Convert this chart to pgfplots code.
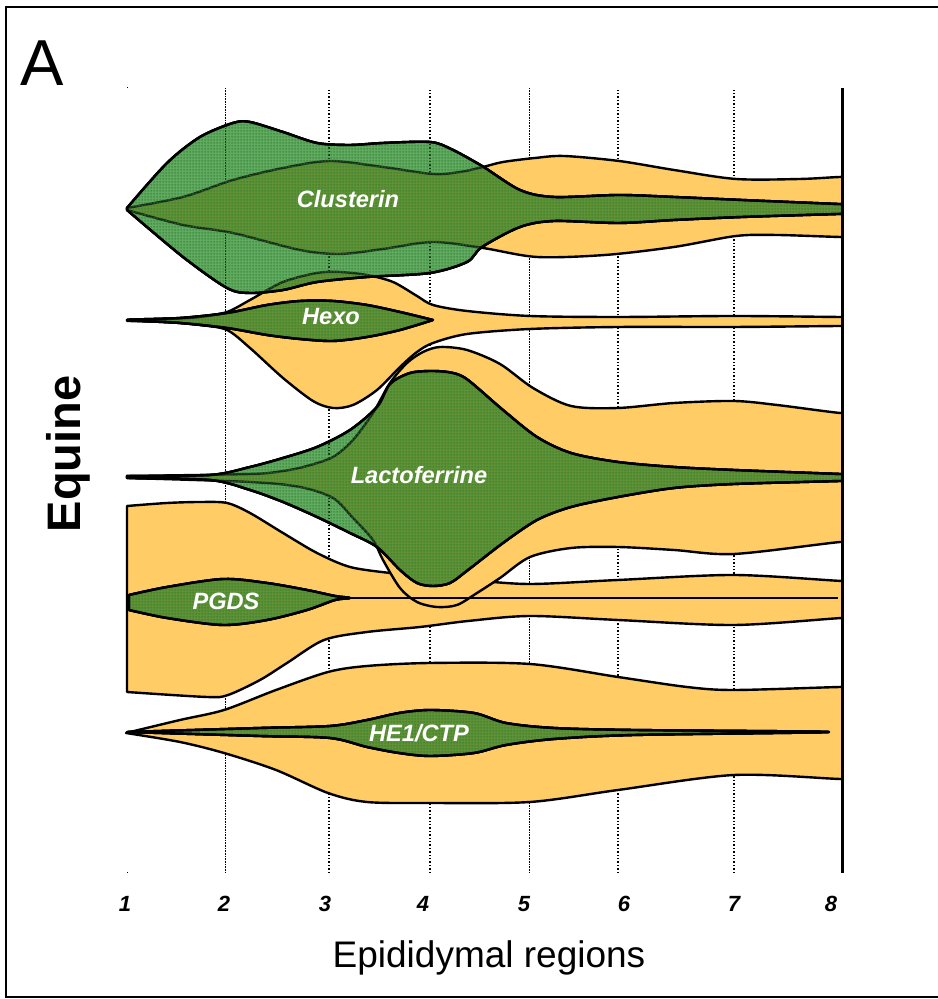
\documentclass[border=0pt]{standalone}
\usepackage{pgfplots}
\pgfplotsset{compat=1.18}
\usetikzlibrary{patterns.meta}
\usepackage{fontspec}
\setmainfont{Liberation Sans}
\definecolor{orng}{RGB}{255,204,102}
\definecolor{grn}{RGB}{100,172,100}
\definecolor{dkgrn}{RGB}{25,115,25}

\tikzdeclarepattern{
  name=fgrid, type=uncolored,
  bounding box={(0pt,0pt) and (1.5pt,1.5pt)},
  tile size={(1.5pt,1.5pt)},
  code={
    \pgfsetlinewidth{0.3pt}
    \pgfpathmoveto{\pgfpoint{0pt}{0.75pt}}\pgfpathlineto{\pgfpoint{1.5pt}{0.75pt}}
    \pgfpathmoveto{\pgfpoint{0.75pt}{0pt}}\pgfpathlineto{\pgfpoint{0.75pt}{1.5pt}}
    \pgfusepath{stroke}
  }
}

\pgfplotsset{
  mrna/.style={fill=orng, draw=black, line width=1.2pt, smooth, line join=round},
  prot/.style={smooth, line join=round, line width=1.2pt,
    preaction={fill=grn, fill opacity=1, blend mode=multiply},
    preaction={pattern=fgrid, pattern color=dkgrn, fill opacity=0.8},
    fill=grn, fill opacity=0.25, draw=black, draw opacity=1},
}
\tikzset{lab/.style={text=white, font=\fontsize{11.8}{12}\selectfont\bfseries\itshape, inner sep=0pt}}

\begin{document}
\begin{tikzpicture}[x=0.5pt,y=0.5pt]
\useasboundingbox (0,0) rectangle (937,999);
\draw[line width=1pt] (6,2) rectangle (950,992);

\begin{axis}[
  at={(57.5pt,63pt)}, anchor=south west,
  scale only axis, width=363.5pt, height=392.5pt,
  xmin=115, xmax=842, ymin=126, ymax=911,
  axis line style={draw=none}, major tick length=0pt,
  ytick=\empty,
  xtick={125,224,325,423,524,624,734,831},
  xticklabels={1,2,3,4,5,6,7,8},
  xticklabel style={anchor=base, yshift=-19.5pt, font=\fontsize{11}{11}\selectfont\bfseries\itshape},
]
% region separators
\addplot[black, line width=0.5pt, dash pattern=on 0.5pt off 0.3pt] coordinates {(225,126) (225,911)};
\addplot[black, line width=0.7pt, dash pattern=on 0.7pt off 1pt] coordinates {(329,126) (329,911)};
\addplot[black, line width=0.7pt, dash pattern=on 0.7pt off 1pt] coordinates {(430,126) (430,911)};
\addplot[black, line width=0.5pt, dash pattern=on 0.5pt off 0.3pt] coordinates {(529,126) (529,911)};
\addplot[black, line width=0.7pt, dash pattern=on 0.7pt off 1pt] coordinates {(618,126) (618,911)};
\addplot[black, line width=0.7pt, dash pattern=on 0.7pt off 1pt] coordinates {(734,126) (734,911)};

% orange shapes
% Clusterin
\addplot[mrna] coordinates {(127,791) (183,802) (233,819) (283,831) (330,838) (383,832) (433,825) (460,827) (483,832) (503,837) (535,841) (564,843) (619,838) (674,829) (736,820) (800,820) (840,822) (870,822) (870,762) (840,762) (777,764) (736,763) (674,752) (605,744) (537,742) (483,751) (433,757) (383,750) (340,745) (300,749) (233,766) (183,774) (127,789)} -- cycle;
% Hexo
\addplot[mrna] coordinates {(127,679) (167,680) (200,682) (227,687) (250,699) (283,717) (317,726) (340,727) (367,724) (393,717) (417,703) (433,694) (467,688) (530,683) (619,682) (734,683) (840,682) (870,682) (870,673) (840,673) (734,672) (619,672) (530,670) (467,665) (433,656) (417,647) (400,632) (377,609) (353,594) (333,591) (313,598) (283,621) (250,651) (227,669) (200,674) (167,677) (127,678)} -- cycle;
% PGDS
\addplot[mrna] coordinates {(127,493) (167,496) (200,497) (227,496) (250,486) (283,466) (317,446) (350,432) (390,426) (430,422) (470,419) (530,415) (618,419) (734,424) (842,418) (870,418) (870,381) (842,381) (734,374) (618,379) (530,383) (468,378) (420,372) (367,367) (324,359) (287,336) (260,319) (228,304) (207,302) (127,307)} -- cycle;
% Lactoferrine
\addplot[mrna] coordinates {(127,523) (250,525) (283,528) (307,533) (333,542) (353,559) (373,586) (390,616) (407,636) (423,647) (440,652) (467,649) (500,635) (533,611) (571,593) (618,591) (674,596) (734,598) (777,594) (840,586) (870,585) (870,458) (840,457) (734,445) (674,449) (618,452) (571,451) (530,442) (500,421) (477,406) (457,394) (437,392) (417,397) (400,411) (383,439) (373,459) (353,481) (333,501) (300,512) (250,517) (127,521)} -- cycle;
% HE1/CTP
\addplot[mrna] coordinates {(126,266) (180,279) (224,289) (276,309) (328,327) (367,333) (430,336) (530,335) (618,322) (687,312) (734,309) (840,312) (870,312) (870,220) (840,220) (734,224) (618,209) (530,197) (430,196) (367,197) (328,206) (276,229) (224,246) (180,257) (126,266)} -- cycle;

% green shapes
% Clusterin
\addplot[prot] coordinates {(127,791) (167,836) (200,862) (233,876) (250,877) (283,867) (317,856) (350,854) (383,856) (430,857) (451,850) (482,833) (520,809) (554,802) (619,804) (674,802) (742,799) (838,795) (870,794) (870,786) (838,785) (742,782) (674,779) (619,776) (554,778) (520,772) (482,752) (467,737) (430,726) (367,722) (317,717) (283,709) (250,706) (227,711) (183,742) (127,789)} -- cycle;
% Hexo
\addplot[prot] coordinates {(433,679) (400,687) (367,694) (333,698) (300,698) (267,694) (227,686) (180,681) (127,679) (180,676) (227,671) (267,664) (300,660) (333,658) (367,662) (400,669) (433,679)} -- cycle;
% Lactoferrine
\addplot[prot] coordinates {(127,523) (210,524) (250,532) (283,541) (317,552) (350,569) (377,592) (390,615) (410,626) (433,628) (453,626) (468,619) (503,589) (537,562) (571,546) (618,537) (674,532) (734,529) (840,525) (870,524) (870,519) (840,518) (734,515) (674,511) (618,502) (571,492) (537,479) (503,456) (468,429) (450,416) (433,413) (417,416) (400,429) (377,452) (350,466) (317,482) (283,497) (250,509) (210,519) (127,521)} -- cycle;
% PGDS
\addplot[prot] coordinates {(129,404) (167,412) (223,420) (267,416) (307,409) (335,403) (350,401) (335,399) (307,389) (267,379) (223,374) (167,381) (129,389)} -- cycle;
\addplot[black, line width=1.2pt] coordinates {(350,401) (838,401)};
% HE1/CTP
\addplot[prot] coordinates {(127,267) (260,271) (330,273) (367,279) (399,286) (430,289) (474,286) (506,276) (554,271) (634,269) (829,267) (634,264) (554,260) (506,254) (474,246) (430,243) (399,246) (367,252) (330,261) (260,263) (127,267)} -- cycle;

\node[lab] at (axis cs:348,800) {Clusterin};
\node[lab] at (axis cs:331,682) {Hexo};
\node[lab] at (axis cs:419,524) {Lactoferrine};
\node[lab] at (axis cs:226,398) {PGDS};
\node[lab] at (axis cs:419,266) {HE1/CTP};
\end{axis}

\draw[line width=1.5pt] (842,126) -- (842,911);
\fill (126.5,910.5) rectangle (127.5,911.5);
\fill (126.5,125.5) rectangle (127.5,126.5);

\node[anchor=base west, inner sep=0pt, font=\fontsize{32.5}{34}\selectfont] at (20,913) {A};
\node[anchor=base, rotate=90, inner sep=0pt, font=\fontsize{23.5}{25}\selectfont\bfseries] at (80,545) {Equine};
\node[anchor=base, inner sep=0pt, font=\fontsize{18.5}{20}\selectfont] at (489,32) {Epididymal regions};
\end{tikzpicture}
\end{document}
